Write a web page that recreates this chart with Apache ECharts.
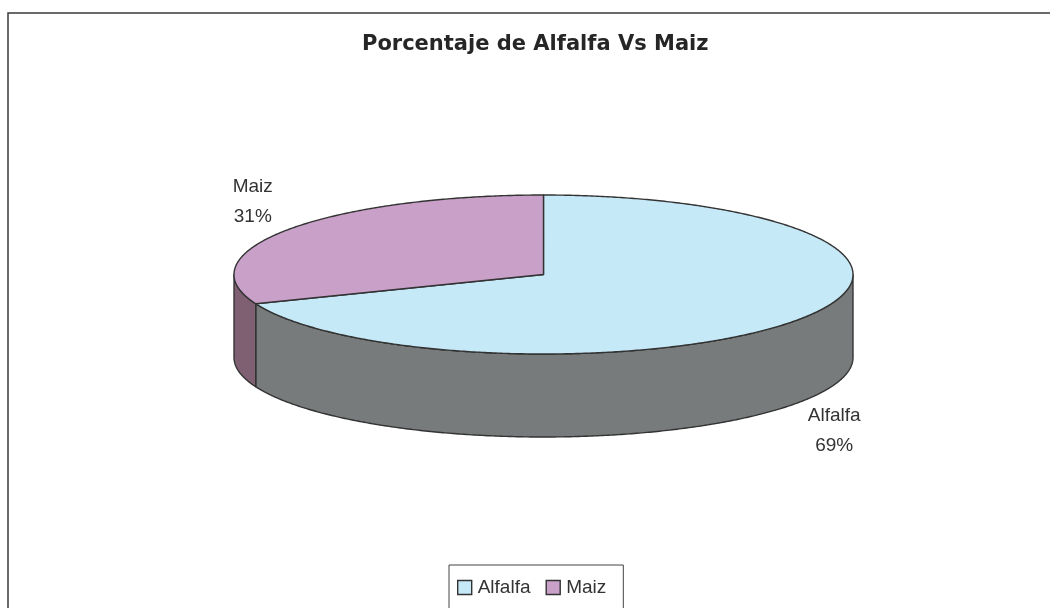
<!DOCTYPE html>
<html>
<head>
<meta charset="utf-8">
<script src="https://cdn.jsdelivr.net/npm/echarts@6/dist/echarts.min.js"></script>
<style>html,body{margin:0;padding:0;background:#fff}#c{width:1050px;height:608px}</style>
</head>
<body>
<div id="c"></div>
<script>
// ---- data ----
const titleText = 'Porcentaje de Alfalfa Vs Maiz';
const categories = ['Alfalfa', 'Maiz'];
const values = [69, 31];

// ---- styles ----
const topColors = ['#C6E9F8', '#C8A0C8'];
const sideColors = ['#777B7B', '#7F5F72'];
const edge = '#333333';
const FONT = 'Liberation Sans, Arial, sans-serif';
const TITLE_FONT = 'DejaVu Sans, Liberation Sans, Arial, sans-serif';

// ---- 3D pie geometry (layout) ----
const G = { cx: 543.5, cy: 274.5, rx: 309.5, ry: 79.5, depth: 83 };

function pt(phiDeg, dy) {
  const r = phiDeg * Math.PI / 180;
  return [G.cx + G.rx * Math.cos(r), G.cy - G.ry * Math.sin(r) + (dy || 0)];
}
function arc(a, b, dy) { // from angle a to b (degrees)
  const n = Math.max(2, Math.ceil(Math.abs(b - a) / 0.5));
  const out = [];
  for (let k = 0; k <= n; k++) out.push(pt(a + (b - a) * k / n, dy));
  return out;
}

function makeRender(i) {
  return function (params, api) {
    const total = values.reduce((s, v) => s + v, 0);
    let before = 0;
    for (let k = 0; k < i; k++) before += values[k];
    const start = 90 - before / total * 360;
    const end = start - values[i] / total * 360;
    const children = [];
    // front walls: sin(phi) < 0  -> phi in (-180+360k, 360k)
    const lo = Math.min(start, end), hi = Math.max(start, end);
    for (let k = -2; k <= 2; k++) {
      const a = Math.max(lo, -180 + 360 * k), b = Math.min(hi, 360 * k);
      if (b - a > 1e-6) {
        const topArc = arc(b, a, 0);
        const botArc = arc(a, b, G.depth);
        children.push({
          type: 'polygon', z2: 1,
          shape: { points: topArc.concat(botArc) },
          style: { fill: sideColors[i], stroke: edge, lineWidth: 1.4, lineJoin: 'round' }
        });
      }
    }
    // top face
    children.push({
      type: 'polygon', z2: 10,
      shape: { points: [[G.cx, G.cy]].concat(arc(start, end, 0)) },
      style: { fill: topColors[i], stroke: edge, lineWidth: 1.4, lineJoin: 'round' }
    });
    // label
    const mid = (start + end) / 2;
    const mr = mid * Math.PI / 180;
    const s = Math.sin(mr);
    const lx = G.cx + (G.rx + 42) * Math.cos(mr);
    const ly = G.cy - (G.ry + 50) * s + (s < 0 ? G.depth : 0);
    children.push({
      type: 'text', z2: 20,
      style: {
        x: lx, y: ly,
        text: categories[i] + '\n' + Math.round(values[i] / total * 100) + '%',
        align: 'center', verticalAlign: 'middle',
        fill: '#333', font: '19px ' + FONT, lineHeight: 30
      }
    });
    return { type: 'group', children: children };
  };
}

const chart = echarts.init(document.getElementById('c'), null, { renderer: 'canvas' });
chart.setOption({
  animation: false,
  backgroundColor: '#fff',
  title: {
    text: titleText,
    left: 357, top: 29,
    textStyle: { fontFamily: TITLE_FONT, fontSize: 21, fontWeight: 'bold', color: '#262626' }
  },
  legend: {
    data: categories,
    left: 449, top: 565,
    orient: 'horizontal',
    icon: 'rect', itemWidth: 14, itemHeight: 14, itemGap: 15,
    padding: [13, 17, 13, 8],
    borderColor: '#444', borderWidth: 1, backgroundColor: '#fff',
    itemStyle: { borderColor: edge, borderWidth: 1.4 },
    textStyle: { fontFamily: FONT, fontSize: 19, color: '#333', padding: [0, 0, 0, 1] },
    selectedMode: false
  },
  graphic: [{
    type: 'rect', silent: true, z: -1,
    shape: { x: 8, y: 13, width: 1100, height: 700 },
    style: { fill: 'none', stroke: '#3a3a3a', lineWidth: 1.5 }
  }],
  series: categories.map((name, i) => ({
    type: 'custom',
    name: name,
    coordinateSystem: 'none',
    itemStyle: { color: topColors[i] },
    data: [[i]],
    renderItem: makeRender(i)
  }))
});
</script>
</body>
</html>
